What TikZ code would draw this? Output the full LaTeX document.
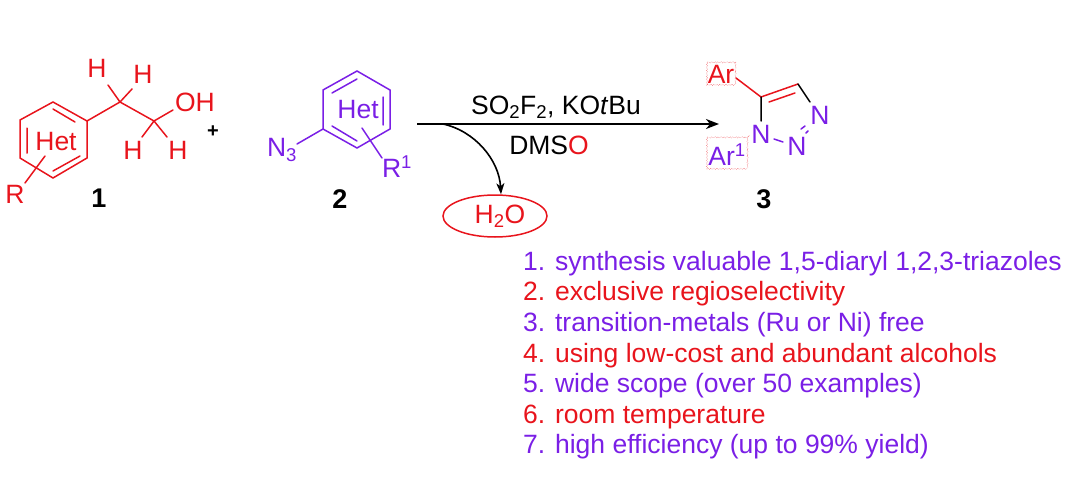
\documentclass[tikz,border=0pt]{standalone}
\usepackage{fontspec}
\setmainfont{Liberation Sans}
\usetikzlibrary{arrows.meta,shapes.geometric,decorations.pathmorphing,calc}
\definecolor{cred}{HTML}{E8141C}
\definecolor{cpur}{HTML}{7A1FE6}
\tikzset{
 x=1pt,y=-1pt,
 lab/.style={inner sep=0pt,font=\fontsize{26.5}{26.5}\selectfont,anchor=center},
 listitem/.style={inner sep=0pt,font=\fontsize{26.5}{26.5}\selectfont,anchor=base west},
 num/.style={inner sep=0pt,font=\fontsize{27}{27}\selectfont\bfseries,anchor=center,text=black},
 bond/.style={line width=1.5pt,line cap=round},
 rb/.style={bond,draw=cred},
 pb/.style={bond,draw=cpur},
 kb/.style={bond,draw=black},
 rxn/.style={line width=1.9pt,draw=black,-{Stealth[length=13pt,width=10pt,inset=4pt]}},
 wavy/.style={draw=cred!70,line width=.5pt,densely dotted,decorate,decoration={snake,amplitude=.6pt,segment length=3pt}},
}
\begin{document}
\begin{tikzpicture}
\useasboundingbox (0,0) rectangle (1072,479);
% molecule 1
\coordinate (a1) at (53,102);\coordinate (a2) at (87,121);\coordinate (a3) at (87,158);
\coordinate (a4) at (53,178);\coordinate (a5) at (20,158);\coordinate (a6) at (20,120);
\coordinate (c1) at (120,102);\coordinate (c2) at (154,121);
\coordinate (i1) at (53,109);\coordinate (i2) at (75,122);
\coordinate (i3) at (27,128);\coordinate (i4) at (27,153);
\coordinate (i5) at (53,171);\coordinate (i6) at (80,156);
\coordinate (h1e) at (108,85);\coordinate (h2e) at (132,89);
\coordinate (h3e) at (142,137);\coordinate (h4e) at (167,137);
\coordinate (oe) at (173,110);\coordinate (r1) at (25,183);\coordinate (r2) at (45,156);
\draw[rb] (a1)--(a2)--(a3)--(a4)--(a5)--(a6)--cycle;
\draw[rb] (i1)--(i2) (i3)--(i4) (i5)--(i6);
\draw[rb] (a2)--(c1)--(c2)--(oe) (c1)--(h1e) (c1)--(h2e) (c2)--(h3e) (c2)--(h4e) (r1)--(r2);
\node[lab,text=cred] (het1) at (56,142) {Het};
\node[lab,text=cred] (h1) at (97,68) {H};
\node[lab,text=cred] (h2) at (143,74) {H};
\node[lab,text=cred] (oh) at (195,102) {OH};
\node[lab,text=cred] (h3) at (133,150) {H};
\node[lab,text=cred] (h4) at (178,150) {H};
\node[lab,text=cred] (r) at (15,194) {R};
\node[lab,text=black,font=\fontsize{20}{20}\selectfont\bfseries] (plus) at (213,132) {+};
\node[num] (n1) at (99,198) {1};
% molecule 2
\coordinate (b1) at (357,71);\coordinate (b2) at (390,90);\coordinate (b3) at (390,129);
\coordinate (b4) at (357,148);\coordinate (b5) at (323,129);\coordinate (b6) at (323,90);
\coordinate (j1) at (332,93);\coordinate (j2) at (357,79);
\coordinate (j3) at (383,97);\coordinate (j4) at (383,125);
\coordinate (j5) at (332,126);\coordinate (j6) at (357,141);
\coordinate (ne) at (297,144);\coordinate (r3) at (362,128);\coordinate (r4) at (382,158);
\draw[pb] (b1)--(b2)--(b3)--(b4)--(b5)--(b6)--cycle;
\draw[pb] (j1)--(j2) (j3)--(j4) (j5)--(j6) (b5)--(ne) (r3)--(r4);
\node[lab,text=cpur] (het2) at (358,110) {Het};
\node[lab,text=cpur] (n3) at (282,150) {N\textsubscript{3}};
\node[lab,text=cpur] (r5) at (397,167) {R\textsuperscript{1}};
\node[num] (n2) at (340,199) {2};
% arrow
\coordinate (s) at (417,124);\coordinate (e) at (719,124);\coordinate (sb) at (443,124);
\draw[rxn] (s)--(e);
\node[ellipse,draw=cred,line width=1.5pt,minimum width=104pt,minimum height=42pt,inner sep=0pt,font=\fontsize{26.5}{26.5}\selectfont,text=cred] (w) at (495,216) {\hspace{10pt}H\textsubscript{2}O};
\draw[line width=1.6pt,draw=black,-{Stealth[length=11pt,width=8pt,inset=3pt]}] (sb) .. controls (475,131) and (499,160) .. (w.north-|501,0);
\node[inner sep=0pt,anchor=base,font=\fontsize{26.5}{26.5}\selectfont] (t1) at (556,114) {SO\textsubscript{2}F\textsubscript{2}, KO\textit{t}Bu};
\node[inner sep=0pt,anchor=base,font=\fontsize{26.5}{26.5}\selectfont] (t2) at (549,154) {DMS\textcolor{cred}{O}};
% molecule 3
\coordinate (d1) at (761,97);\coordinate (d2) at (798,84);
\coordinate (d3) at (810,102);\coordinate (d4) at (761,121);
\coordinate (k1) at (769,102);\coordinate (k2) at (795,93);
\coordinate (ae) at (736,78);\coordinate (nn1) at (774,139);\coordinate (nn2) at (783,142);
\coordinate (q1) at (801,129);\coordinate (q2) at (805,126);
\coordinate (q3) at (806,133);\coordinate (q4) at (808,131);
\draw[rb] (ae)--(d1)--(d2) (k1)--(k2);
\draw[kb] (d2)--(d3) (d1)--(d4);
\draw[pb] (nn1)--(nn2) (q1)--(q2) (q3)--(q4);
\node[lab,text=cred] (ar) at (721,74) {Ar};
\node[lab,text=cpur] (n4) at (761,134) {N};
\node[lab,text=cpur] (n5) at (820,115) {N};
\node[lab,text=cpur] (n6) at (797,146) {N};
\node[lab,text=cpur] (ar1) at (727,155) {Ar\textsuperscript{1}};
\node[num] (n7) at (764,199) {3};
\coordinate (wa) at (707,62);\coordinate (wb) at (735,85);
\coordinate (wc) at (707,137);\coordinate (wd) at (747,169);
\draw[wavy] (wa) rectangle (wb);
\draw[wavy] (wc) rectangle (wd);
% list
\node[listitem,text=cpur] (l1) at (523,270) {1. synthesis valuable 1,5-diaryl 1,2,3-triazoles};
\node[listitem,text=cred] (l2) at (523,300) {2. exclusive regioselectivity};
\node[listitem,text=cpur] (l3) at (523,331) {3. transition-metals (Ru or Ni) free};
\node[listitem,text=cred] (l4) at (523,362) {4. using low-cost and abundant alcohols};
\node[listitem,text=cpur] (l5) at (523,392) {5. wide scope (over 50 examples)};
\node[listitem,text=cred] (l6) at (523,423) {6. room temperature};
\node[listitem,text=cpur] (l7) at (523,453) {7. high efficiency (up to 99\% yield)};
\end{tikzpicture}
\end{document}
